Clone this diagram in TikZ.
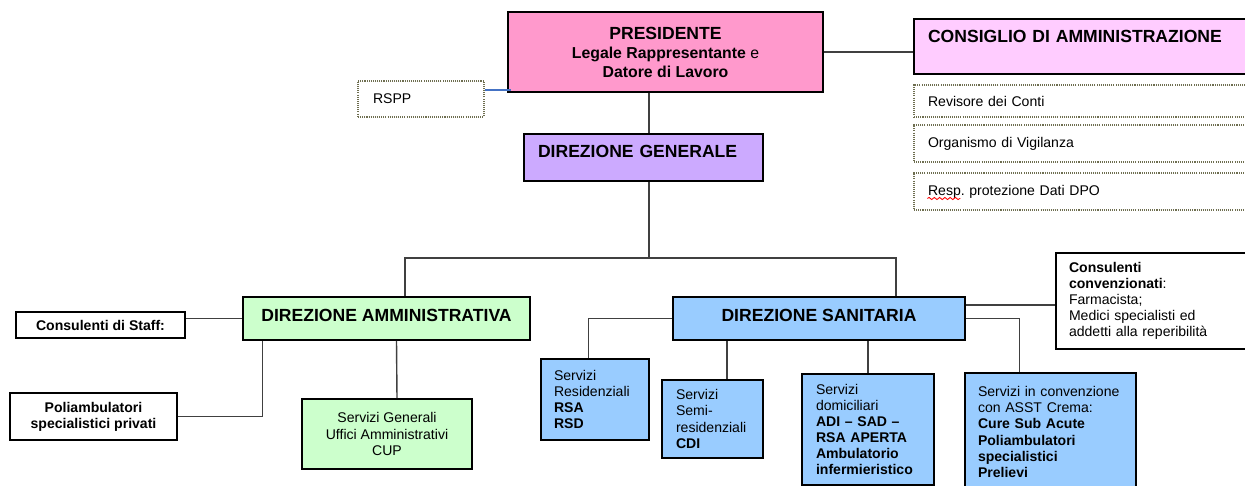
\documentclass[tikz,border=0pt]{standalone}
\usepackage{fontspec}
\setmainfont{Liberation Sans}
\usetikzlibrary{calc,positioning,decorations.pathmorphing}
\frenchspacing

\definecolor{prespink}{HTML}{FF99CC}
\definecolor{cdapink}{HTML}{FFCCFF}
\definecolor{dglilac}{HTML}{CCAAFF}
\definecolor{amgreen}{HTML}{CCFFCC}
\definecolor{sanblue}{HTML}{99CCFF}
\definecolor{dotline}{HTML}{6E6E50}
\definecolor{rsppblue}{HTML}{4472C4}

\tikzstyle{orgbox}   = [rectangle, draw=black, line width=0.9pt, inner sep=0pt]
\tikzstyle{staffbox} = [rectangle, draw=dotline, line width=0.7pt, dash pattern=on 0.6pt off 0.6pt, inner sep=0pt, align=left, font=\fontsize{8}{9.2}\selectfont]
\tikzstyle{smalltext}= [font=\fontsize{8}{9.2}\selectfont]
\tikzstyle{headtext} = [font=\fontsize{10}{12}\selectfont\bfseries]
\tikzstyle{conn}     = [line width=0.8pt, draw=black!75]

\begin{document}
\begin{tikzpicture}[x=0.02cm, y=-0.02cm]
        \useasboundingbox (0,0) rectangle (1245,486);

        % vertice
        \node[orgbox, fill=prespink, minimum width=6.3cm, minimum height=1.6cm, align=center, font=\fontsize{9}{10.8}\selectfont] (pres) at (665.5,52)
            {{\fontsize{10}{10.8}\selectfont\bfseries PRESIDENTE}\\\textbf{Legale Rappresentante} e\\\textbf{Datore di Lavoro}};
        \node[staffbox, minimum width=2.52cm, minimum height=0.72cm, text width=1.92cm] (rspp) at (421,99) {RSPP};

        \node[orgbox, fill=cdapink, minimum width=6.64cm, minimum height=1.1cm, text width=6.08cm, align=left, headtext, text depth=11pt] (cda) at (1080,46.5) {CONSIGLIO DI AMMINISTRAZIONE};
        \node[staffbox, minimum width=6.64cm, minimum height=0.64cm, text width=6.08cm] (rev) at (1080,101) {Revisore dei Conti};
        \node[staffbox, minimum width=6.64cm, minimum height=0.74cm, text width=6.08cm] (odv) at (1080,143.5) {Organismo di Vigilanza};
        \node[staffbox, minimum width=6.64cm, minimum height=0.74cm, text width=6.08cm] (dpo) at (1080,191.5) {Resp. protezione Dati DPO};

        \node[orgbox, fill=dglilac, minimum width=4.78cm, minimum height=0.94cm, text width=4.22cm, align=left, headtext, text depth=6.6pt] (dg) at (643.5,157.5) {DIREZIONE GENERALE};

        % direzioni
        \node[orgbox, fill=amgreen, minimum width=5.74cm, minimum height=0.86cm, headtext, text depth=4pt] (da) at (386.5,318.5) {DIREZIONE AMMINISTRATIVA};
        \node[orgbox, fill=sanblue, minimum width=5.84cm, minimum height=0.86cm, headtext, text depth=4pt] (ds) at (819,318.5) {DIREZIONE SANITARIA};

        % lato amministrativo
        \node[orgbox, minimum width=3.38cm, minimum height=0.52cm, font=\fontsize{8}{9.2}\selectfont\bfseries] (cstaff) at (100.5,325) {Consulenti di Staff:};
        \node[orgbox, minimum width=3.34cm, minimum height=0.94cm, align=center, font=\fontsize{8}{9.2}\selectfont\bfseries] (poli) at (93.5,416.5) {Poliambulatori\\specialistici privati};
        \node[orgbox, fill=amgreen, minimum width=3.4cm, minimum height=1.4cm, align=center, smalltext] (sg) at (387,434) {Servizi Generali\\Uffici Amministrativi\\CUP};

        % lato sanitario
        \node[orgbox, minimum width=3.8cm, minimum height=1.92cm, text width=3.28cm, align=left, smalltext] (cconv) at (1151,301)
            {\textbf{Consulenti}\\\textbf{convenzionati}:\\Farmacista;\\Medici specialisti ed\\addetti alla reperibilità};
        \node[orgbox, fill=sanblue, minimum width=2.16cm, minimum height=1.62cm, text width=1.64cm, align=left, smalltext] (rsa) at (595,399.5)
            {Servizi\\Residenziali\\\textbf{RSA}\\\textbf{RSD}};
        \node[orgbox, fill=sanblue, minimum width=2.02cm, minimum height=1.56cm, text width=1.46cm, align=left, smalltext] (cdi) at (712.5,419)
            {Servizi\\Semi-\\residenziali\\\textbf{CDI}};
        \node[orgbox, fill=sanblue, minimum width=2.64cm, minimum height=2.22cm, text width=2.08cm, align=left, smalltext] (dom) at (868,429.5)
            {Servizi\\domiciliari\\\textbf{ADI – SAD –}\\\textbf{RSA APERTA}\\\textbf{Ambulatorio}\\\textbf{infermieristico}};
        \node[orgbox, fill=sanblue, minimum width=3.42cm, minimum height=2.36cm, text width=2.9cm, align=left, smalltext] (conv) at (1050.5,432)
            {Servizi in convenzione\\con ASST Crema:\\\textbf{Cure Sub Acute}\\\textbf{Poliambulatori}\\\textbf{specialistici}\\\textbf{Prelievi}};

        % collegamenti
        \coordinate (trunk) at (649,0);
        \coordinate (fork) at (649,258);
        \draw[conn] (pres.south -| trunk) -- (dg.north -| trunk);
        \draw[conn] (dg.south -| trunk) -- (fork);
        \draw[conn] ($(da.north)+(18.5,0)$) |- (fork) -| ($(ds.north)+(77,0)$);
        \draw[conn] (pres.east) -- (pres.east -| cda.west);
        \draw[line width=0.8pt, rsppblue] ($(rspp.east)+(0,-9)$) coordinate (r1) -- ($(r1 -| pres.west)+(4,0)$);

        \draw[conn] (cstaff.east |- da.west) -- (da.west);
        \draw[conn] (poli.east) -| ($(da.south west)+(20,0)$);
        \draw[conn] ($(da.south)+(10,0)$) -- ($(sg.north)+(10,0)$);

        \draw[conn] ($(ds.east)+(0,-13.5)$) coordinate (d1) -- (d1 -| cconv.west);
        \draw[conn] (ds.west) -| ($(rsa.north west)+(48,0)$);
        \draw[conn] ($(cdi.north)+(14.5,0)$) coordinate (d2) -- (d2 |- ds.south);
        \draw[conn] (dom.north) -- (dom.north |- ds.south);
        \draw[conn] (ds.east) -| ($(conv.north west)+(55,0)$);

        % sottolineatura ortografica
        \draw[red, line width=0.5pt, decorate, decoration={snake, amplitude=0.6pt, segment length=3pt}] ($(dpo.west)+(14,7)$) -- ++(33,0);
    \end{tikzpicture}
\end{document}
